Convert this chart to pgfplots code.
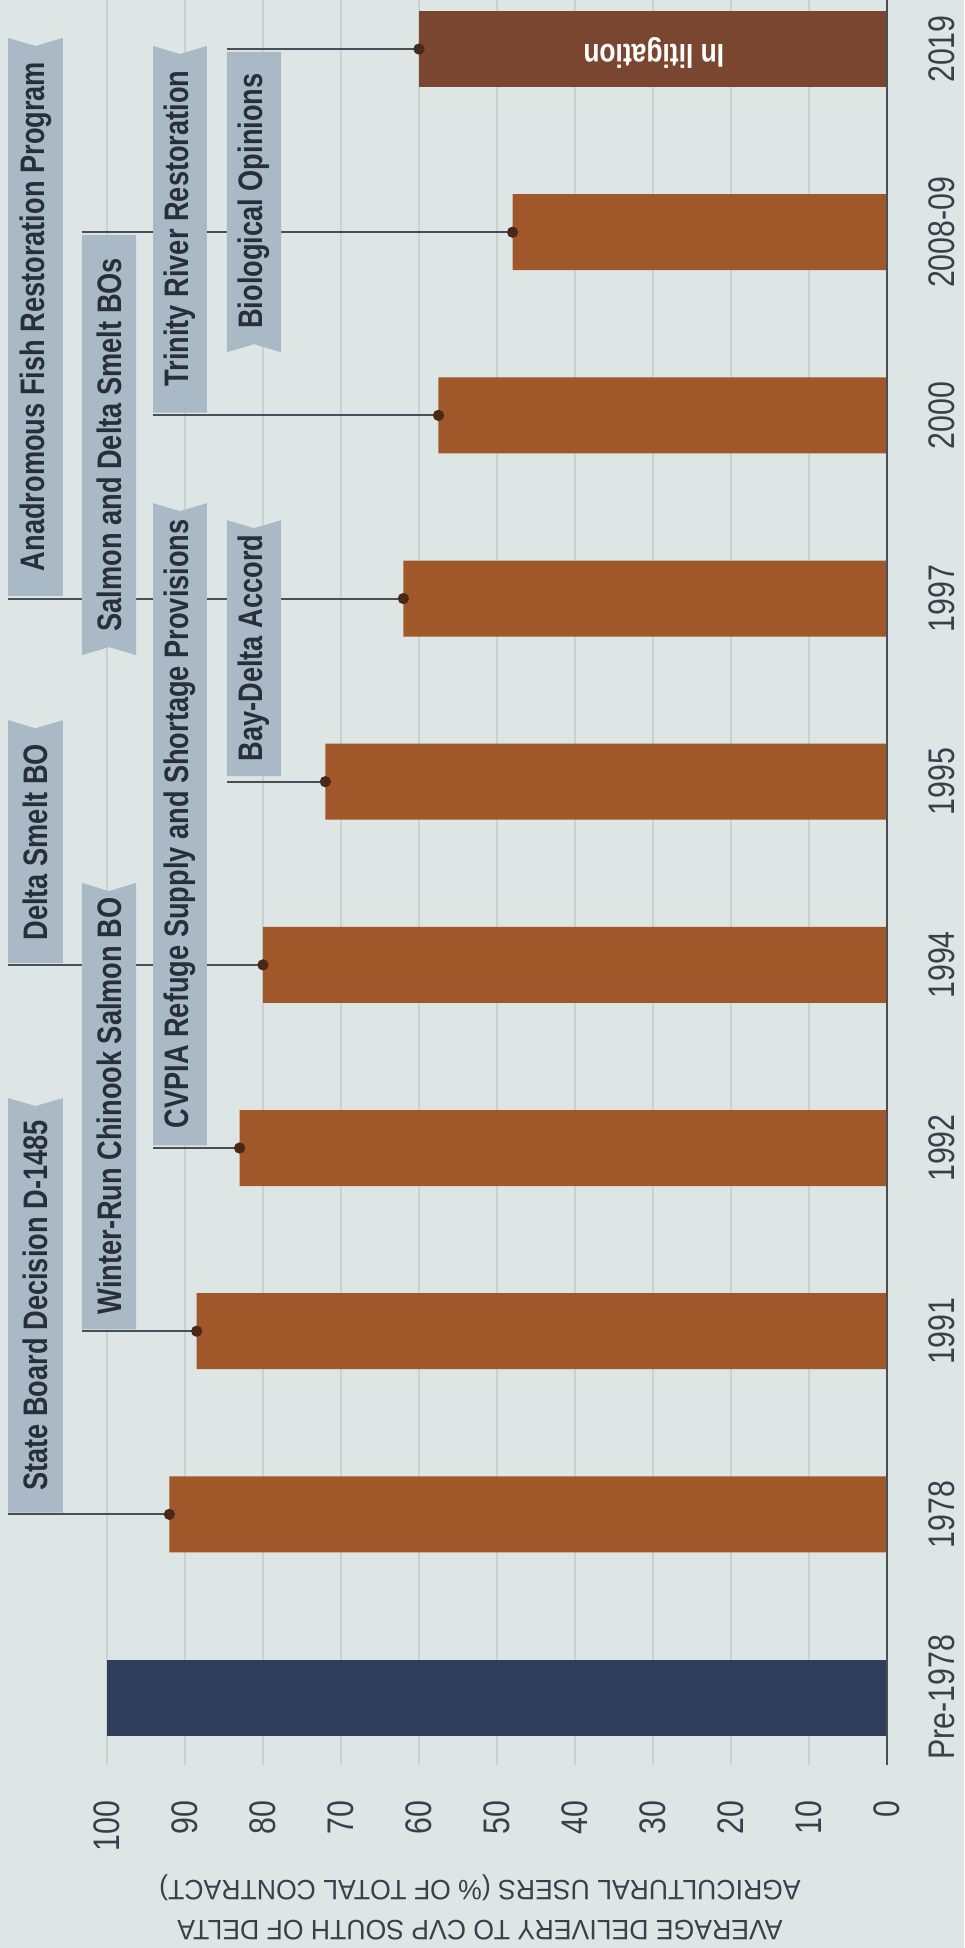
\documentclass[border=0pt]{standalone}
\usepackage{fontspec}
\setmainfont{Liberation Sans}[FakeStretch=0.82]
\newfontfamily\titlefont{Liberation Sans}[FakeStretch=0.95]
\newfontfamily\bannerfont{Liberation Sans}[FakeStretch=0.8]
\usepackage{pgfplots}
\pgfplotsset{compat=1.18}
\definecolor{paper}{HTML}{DDE6E5}
\definecolor{gridc}{HTML}{C8D2D1}
\definecolor{barbrown}{HTML}{A0582A}
\definecolor{barnavy}{HTML}{2F3E5A}
\definecolor{barlit}{HTML}{7A4630}
\definecolor{bannerc}{HTML}{A9B9C5}
\definecolor{bantext}{HTML}{27303A}
\definecolor{linec}{HTML}{4A4F55}
\definecolor{dotc}{HTML}{4A2818}
\definecolor{ticktext}{HTML}{3A4048}
\begin{document}
\begin{tikzpicture}
\fill[paper] (0,0) rectangle (482pt,974pt);
\path[use as bounding box] (0,0) rectangle (482pt,974pt);
\begin{axis}[
  at={(53.5pt,91.5pt)}, anchor=south west,
  scale only axis, width=390pt, height=882.5pt,
  xmin=0, xmax=100, x dir=reverse,
  ymin=-0.3685, ymax=9.268,
  axis line style={draw=none},
  major tick length=0pt,
  xtick={0,10,...,100},
  ytick={0,1,...,9},
  yticklabels={Pre-1978,1978,1991,1992,1994,1995,1997,2000,2008-09,2019},
  yticklabel pos=right,
  xmajorgrids,
  grid style={gridc, line width=0.7pt},
  clip=false,
  tick label style={font=\fontsize{18.5}{20}\selectfont, text=ticktext, inner sep=0pt},
  xticklabel style={yshift=-17.5pt, rotate=90, anchor=east},
  yticklabel style={xshift=20.5pt, rotate=90, anchor=north},
  /pgf/number format/assume math mode=true,
]
\addplot[xbar, bar width=38pt, bar shift=0pt, fill=barnavy, draw=none] coordinates {(100,0)};
\addplot[xbar, bar width=38pt, bar shift=0pt, fill=barbrown, draw=none] coordinates {(92,1) (88.5,2) (83,3) (80,4) (72,5) (62,6) (57.5,7) (48,8)};
\addplot[xbar, bar width=38pt, bar shift=0pt, fill=barlit, draw=none] coordinates {(60,9)};
\draw[linec, line width=1pt] (axis cs:0,-0.3685) -- (axis cs:0,9.268);
% connector lines
\draw[linec, line width=1pt] (axis cs:112.69,1) -- (axis cs:92,1);
\draw[linec, line width=1pt] (axis cs:103.21,2) -- (axis cs:88.5,2);
\draw[linec, line width=1pt] (axis cs:94.10,3) -- (axis cs:83,3);
\draw[linec, line width=1pt] (axis cs:112.69,4) -- (axis cs:80,4);
\draw[linec, line width=1pt] (axis cs:84.62,5) -- (axis cs:72,5);
\draw[linec, line width=1pt] (axis cs:112.69,6) -- (axis cs:62,6);
\draw[linec, line width=1pt] (axis cs:94.10,7) -- (axis cs:57.5,7);
\draw[linec, line width=1pt] (axis cs:103.21,8) -- (axis cs:48,8);
\draw[linec, line width=1pt] (axis cs:84.62,9) -- (axis cs:60,9);
% banners
\fill[bannerc] (axis cs:112.69,1.01) -- (axis cs:105.64,1.01) -- (axis cs:105.64,3.273) -- (axis cs:109.17,3.229) -- (axis cs:112.69,3.273) -- cycle;
\fill[bannerc] (axis cs:103.21,2.01) -- (axis cs:96.28,2.01) -- (axis cs:96.28,4.447) -- (axis cs:99.74,4.403) -- (axis cs:103.21,4.447) -- cycle;
\fill[bannerc] (axis cs:94.10,3.015) -- (axis cs:87.18,3.015) -- (axis cs:87.18,6.521) -- (axis cs:90.64,6.477) -- (axis cs:94.10,6.521) -- cycle;
\fill[bannerc] (axis cs:112.69,4.01) -- (axis cs:105.64,4.01) -- (axis cs:105.64,5.336) -- (axis cs:109.17,5.292) -- (axis cs:112.69,5.336) -- cycle;
\fill[bannerc] (axis cs:84.62,5.03) -- (axis cs:77.69,5.03) -- (axis cs:77.69,6.428) -- (axis cs:81.15,6.384) -- (axis cs:84.62,6.428) -- cycle;
\fill[bannerc] (axis cs:112.69,6.015) -- (axis cs:105.64,6.015) -- (axis cs:105.64,9.061) -- (axis cs:109.17,9.017) -- (axis cs:112.69,9.061) -- cycle;
\fill[bannerc] (axis cs:94.10,7.015) -- (axis cs:87.18,7.015) -- (axis cs:87.18,9.017) -- (axis cs:90.64,8.973) -- (axis cs:94.10,9.017) -- cycle;
\fill[bannerc] (axis cs:103.21,7.985) -- (axis cs:96.28,7.985) -- (axis cs:96.28,5.691) -- (axis cs:99.74,5.735) -- (axis cs:103.21,5.691) -- cycle;
\fill[bannerc] (axis cs:84.62,8.985) -- (axis cs:77.69,8.985) -- (axis cs:77.69,7.345) -- (axis cs:81.15,7.389) -- (axis cs:84.62,7.345) -- cycle;
\tikzset{bantxt/.style={rotate=90, inner sep=0pt, text=bantext, font=\bannerfont\bfseries\fontsize{17}{17}\selectfont}}
\node[bantxt] at (axis cs:109.17,2.14) {State Board Decision D-1485};
\node[bantxt] at (axis cs:99.74,3.23) {Winter-Run Chinook Salmon BO};
\node[bantxt] at (axis cs:90.64,4.77) {CVPIA Refuge Supply and Shortage Provisions};
\node[bantxt] at (axis cs:109.17,4.67) {Delta Smelt BO};
\node[bantxt] at (axis cs:81.15,5.73) {Bay-Delta Accord};
\node[bantxt] at (axis cs:109.17,7.54) {Anadromous Fish Restoration Program};
\node[bantxt] at (axis cs:90.64,8.02) {Trinity River Restoration};
\node[bantxt] at (axis cs:99.74,6.84) {Salmon and Delta Smelt BOs};
\node[bantxt] at (axis cs:81.15,8.17) {Biological Opinions};
\node[rotate=180, inner sep=0pt, text=white, font=\bannerfont\bfseries\fontsize{16.5}{16.5}\selectfont] at (axis cs:29.9,8.98) {In litigation};
\addplot[only marks, mark=*, mark size=2.6pt, color=dotc] coordinates {(92,1) (88.5,2) (83,3) (80,4) (72,5) (62,6) (57.5,7) (48,8) (60,9)};
\end{axis}
\node[rotate=180, align=center, inner sep=0pt, text=ticktext, font=\titlefont\fontsize{14}{20}\selectfont] at (240pt,20.5pt) {AVERAGE DELIVERY TO CVP SOUTH OF DELTA\\AGRICULTURAL USERS (\% OF TOTAL CONTRACT)};
\end{tikzpicture}
\end{document}
